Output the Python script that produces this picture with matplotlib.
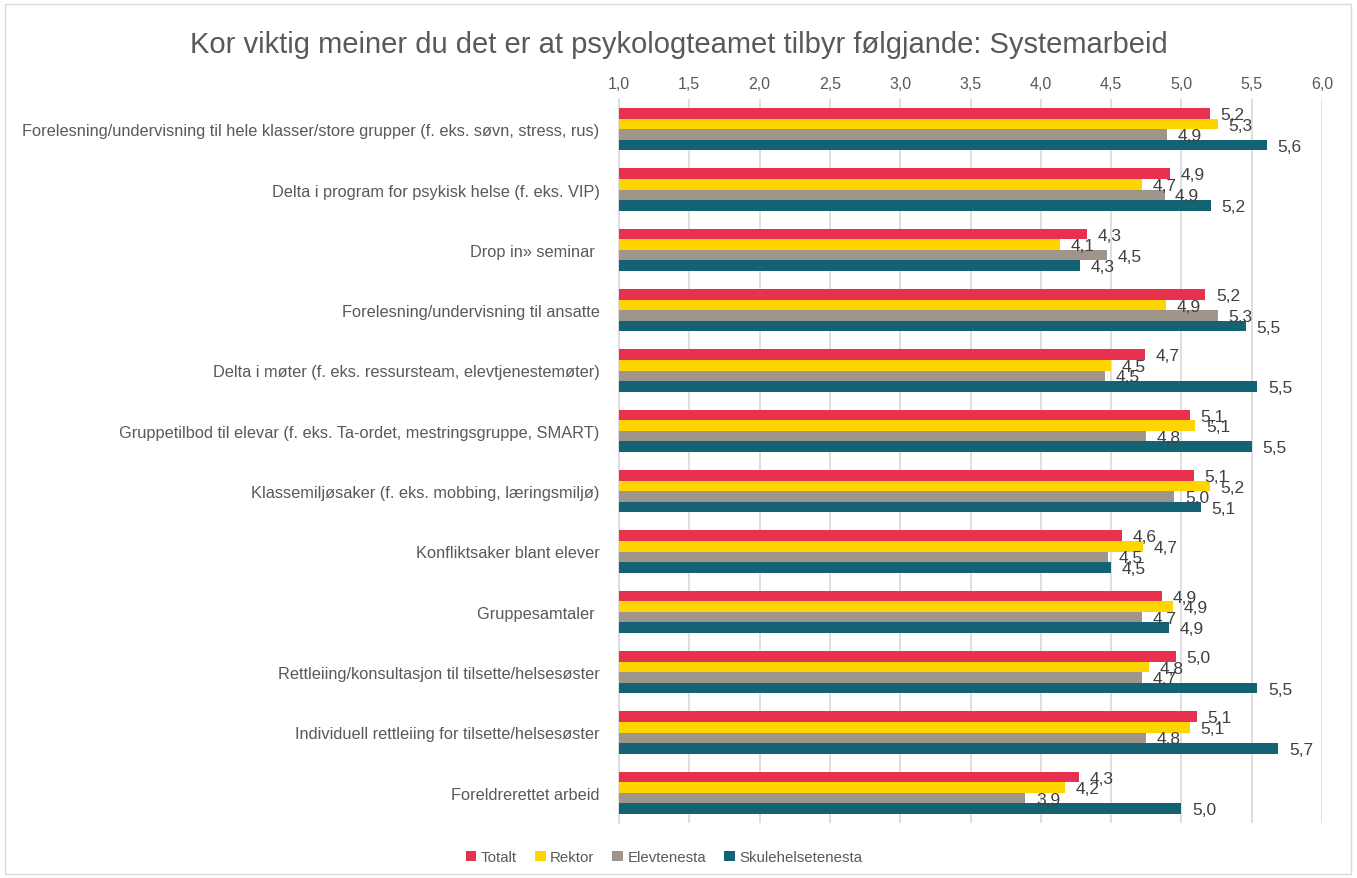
import numpy as np
import matplotlib
matplotlib.use('Agg')
import matplotlib.pyplot as plt
from matplotlib.patches import Rectangle

plt.rcParams['font.family'] = ['Liberation Sans', 'DejaVu Sans']

# Kategoriar (ovanfrå og ned)
kategoriar = [
    'Forelesning/undervisning til hele klasser/store grupper (f. eks. søvn, stress, rus)',
    'Delta i program for psykisk helse (f. eks. VIP)',
    'Drop in» seminar ',
    'Forelesning/undervisning til ansatte',
    'Delta i møter (f. eks. ressursteam, elevtjenestemøter)',
    'Gruppetilbod til elevar (f. eks. Ta-ordet, mestringsgruppe, SMART)',
    'Klassemiljøsaker (f. eks. mobbing, læringsmiljø)',
    'Konfliktsaker blant elever',
    'Gruppesamtaler ',
    'Rettleiing/konsultasjon til tilsette/helsesøster',
    'Individuell rettleiing for tilsette/helsesøster',
    'Foreldrerettet arbeid',
]

serie_namn = ['Totalt', 'Rektor', 'Elevtenesta', 'Skulehelsetenesta']
totalt = [5.20, 4.92, 4.33, 5.17, 4.74, 5.06, 5.09, 4.58, 4.86, 4.96, 5.11, 4.27]
rektor = [5.26, 4.72, 4.14, 4.89, 4.50, 5.10, 5.20, 4.73, 4.94, 4.77, 5.06, 4.17]
elevtenesta = [4.90, 4.88, 4.47, 5.26, 4.46, 4.75, 4.95, 4.48, 4.72, 4.72, 4.75, 3.89]
skulehelse = [5.61, 5.21, 4.28, 5.46, 5.54, 5.50, 5.14, 4.50, 4.91, 5.54, 5.69, 5.00]

fargar = ['#E8304F', '#FFD500', '#A0958B', '#146374']
xticks = [1.0, 1.5, 2.0, 2.5, 3.0, 3.5, 4.0, 4.5, 5.0, 5.5, 6.0]

tekstfarge = '#595959'

fig = plt.figure(figsize=(13.57, 8.79), dpi=100)
ax = fig.add_axes([619 / 1357, 1 - 824 / 879, (1322 - 619) / 1357, (824 - 100) / 879])

serier = [totalt, rektor, elevtenesta, skulehelse]
n = len(kategoriar)
y = np.arange(n)
h = 0.175
for i, (vals, farge, namn) in enumerate(zip(serier, fargar, serie_namn)):
    pos = y + (i - 1.5) * h
    ax.barh(pos, np.array(vals) - 1.0, left=1.0, height=h, color=farge, label=namn, zorder=3)
    for p, v in zip(pos, vals):
        ax.text(v + 0.075, p + 0.02, f'{v:.1f}'.replace('.', ','), va='center', ha='left',
                fontsize=12.5, color='#404040', zorder=4)

ax.set_ylim(n - 0.5, -0.5)
ax.set_xlim(1.0, 6.0)
ax.set_xticks(xticks)
ax.set_xticklabels([f'{t:.1f}'.replace('.', ',') for t in xticks])
ax.xaxis.tick_top()
ax.tick_params(axis='x', length=0, pad=6, labelsize=11.5, labelcolor=tekstfarge)
ax.set_yticks(y)
ax.set_yticklabels(kategoriar)
ax.tick_params(axis='y', length=0, pad=14, labelsize=11.8, labelcolor=tekstfarge)
ax.grid(axis='x', color='#D9D9D9', linewidth=1.2, zorder=0)
for s in ['top', 'right', 'bottom']:
    ax.spines[s].set_visible(False)
ax.spines['left'].set_color('#D9D9D9')
ax.spines['left'].set_linewidth(1.2)

fig.suptitle('Kor viktig meiner du det er at psykologteamet tilbyr følgjande: Systemarbeid',
             x=0.5, y=1 - 45 / 879, va='center', fontsize=21, color=tekstfarge)

handles, labels = ax.get_legend_handles_labels()
fig.legend(handles, labels, loc='center', bbox_to_anchor=(664 / 1357, 1 - 858 / 879), ncol=4,
           frameon=False, fontsize=10.8, labelcolor=tekstfarge, handlelength=0.7, handleheight=0.7,
           handletextpad=0.3, columnspacing=1.2)

fig.patches.append(Rectangle((5 / 1357, 4 / 879), 1346 / 1357, 870 / 879, transform=fig.transFigure,
                             fill=False, edgecolor='#D9D9D9', linewidth=1))

fig.savefig('out.png', dpi=100)
